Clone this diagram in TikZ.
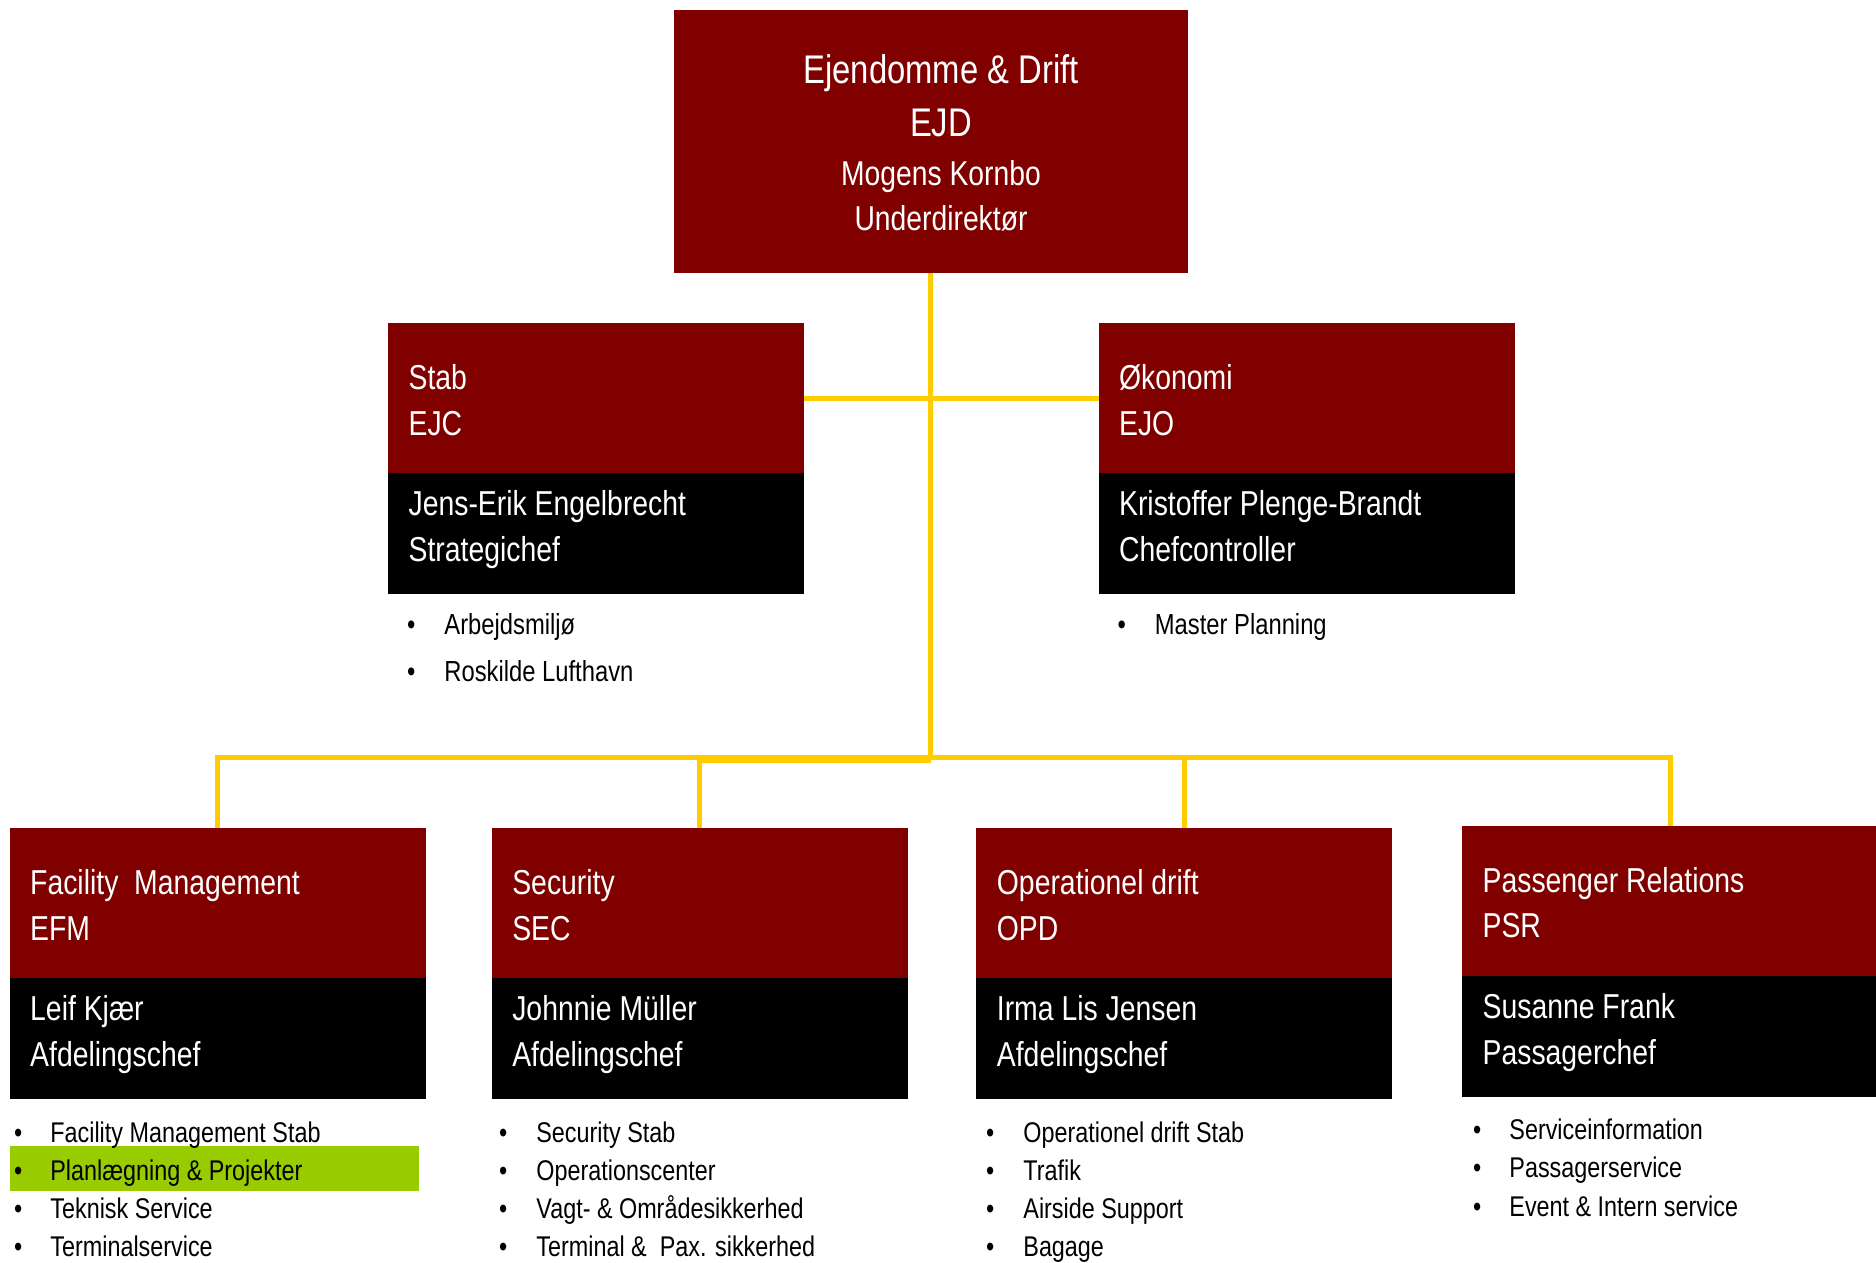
\documentclass[tikz,border=0pt]{standalone}
\usepackage{fontspec}
\setmainfont{Liberation Sans}[FakeStretch=0.82]
\definecolor{maroonred}{RGB}{128,0,0}
\definecolor{busyellow}{RGB}{255,204,0}
\definecolor{hlgreen}{RGB}{153,204,0}

\newcommand\orgunit[7]{%
  \node[redbox] (#1r) at (#2,#3) {};
  \node[blackbox] (#1b) at (#1r.south west) {};
  \node[boxtext] (#1ta) at ([shift={(20.4,66.5)}]#1r.north west) {#4};
  \node[boxtext] (#1tb) at ([shift={(20.4,112)}]#1r.north west) {#5};
  \node[boxtext] (#1tc) at ([shift={(20.4,192.5)}]#1r.north west) {#6};
  \node[boxtext] (#1td) at ([shift={(20.4,238.5)}]#1r.north west) {#7};
}
\newcommand\bulletitem[5]{% name, bullet x, text x, baseline y, text
  \node[bullettext] (#1dot) at (#2,#4) {•};
  \node[bullettext] (#1) at (#3,#4) {#5};
}

\begin{document}
\begin{tikzpicture}[x=1pt,y=-1pt,
  redbox/.style={fill=maroonred, draw=none, anchor=north west, minimum width=416pt, minimum height=150pt, inner sep=0pt, outer sep=0pt},
  blackbox/.style={fill=black, draw=none, anchor=north west, minimum width=416pt, minimum height=121pt, inner sep=0pt, outer sep=0pt},
  boxtext/.style={anchor=base west, inner sep=0pt, text=white, font=\fontsize{34.6}{40}\selectfont},
  toptext/.style={anchor=base, inner sep=0pt, text=white},
  bullettext/.style={anchor=base west, inner sep=0pt, text=black, font=\fontsize{28.5}{32}\selectfont},
  conn/.style={draw=busyellow, line width=5pt},
]
\useasboundingbox (0,0) rectangle (1876,1263);

% top box
\node[fill=maroonred, draw=none, anchor=north west, minimum width=514.4pt, minimum height=263.2pt, inner sep=0pt, outer sep=0pt] (top) at (673.6,9.6) {};
\node[toptext, font=\fontsize{40}{44}\selectfont] (topa) at (941,84) {Ejendomme \& Drift};
\node[toptext, font=\fontsize{40}{44}\selectfont] (topb) at (941,136.5) {EJD};
\node[toptext, font=\fontsize{34.5}{40}\selectfont] (topc) at (941,185) {Mogens Kornbo};
\node[toptext, font=\fontsize{34.5}{40}\selectfont] (topd) at (941,230.5) {Underdirektør};

% units
\orgunit{stab}{388}{323}{Stab}{EJC}{Jens-Erik Engelbrecht}{Strategichef}
\orgunit{oko}{1098.5}{323}{Økonomi}{EJO}{Kristoffer Plenge-Brandt}{Chefcontroller}
\orgunit{efm}{9.6}{828}{Facility\ \ Management}{EFM}{Leif Kjær}{Afdelingschef}
\orgunit{sec}{491.7}{828}{Security}{SEC}{Johnnie Müller}{Afdelingschef}
\orgunit{opd}{976.3}{828}{Operationel drift}{OPD}{Irma Lis Jensen}{Afdelingschef}
\orgunit{psr}{1462}{825.5}{Passenger Relations}{PSR}{Susanne Frank}{Passagerchef}

% connectors
\coordinate (bus) at (930.8,757);
\coordinate (busb) at (930.8,760);
\draw[conn] (top.south) -- (bus);
\draw[conn] (stabr.east) -- (okor.west);
\draw[conn] (bus) -| (efmr.north);
\draw[conn] (busb) -| (secr.north);
\draw[conn] (bus) -| (opdr.north);
\draw[conn] (bus) -| (psrr.north);

% highlight
\node[fill=hlgreen, draw=none, anchor=north west, minimum width=409pt, minimum height=45pt, inner sep=0pt, outer sep=0pt] (hl) at (9.6,1146) {};

% bullet lists
\begin{scope}[bullettext/.style={anchor=base west, inner sep=0pt, text=black, font=\fontsize{29}{33}\selectfont}]
\bulletitem{stabA}{407}{444.2}{634}{Arbejdsmiljø}
\bulletitem{stabB}{407}{444.2}{681.5}{Roskilde Lufthavn}
\bulletitem{okoA}{1117.5}{1154.7}{634}{Master Planning}
\end{scope}

\bulletitem{efmA}{14}{50.2}{1142}{Facility Management Stab}
\bulletitem{efmB}{14}{50.2}{1180.3}{Planlægning \& Projekter}
\bulletitem{efmC}{14}{50.2}{1218.6}{Teknisk Service}
\bulletitem{efmD}{14}{50.2}{1256.9}{Terminalservice}

\bulletitem{secA}{499}{536.2}{1142}{Security Stab}
\bulletitem{secB}{499}{536.2}{1180.3}{Operationscenter}
\bulletitem{secC}{499}{536.2}{1218.6}{Vagt- \& Områdesikkerhed}
\bulletitem{secD}{499}{536.2}{1256.9}{Terminal \&\ \ Pax. sikkerhed}

\bulletitem{opdA}{986}{1023.2}{1142}{Operationel drift Stab}
\bulletitem{opdB}{986}{1023.2}{1180.3}{Trafik}
\bulletitem{opdC}{986}{1023.2}{1218.6}{Airside Support}
\bulletitem{opdD}{986}{1023.2}{1256.9}{Bagage}

\bulletitem{psrA}{1473}{1509.2}{1139.5}{Serviceinformation}
\bulletitem{psrB}{1473}{1509.2}{1177.8}{Passagerservice}
\bulletitem{psrC}{1473}{1509.2}{1216.1}{Event \& Intern service}
\end{tikzpicture}
\end{document}
